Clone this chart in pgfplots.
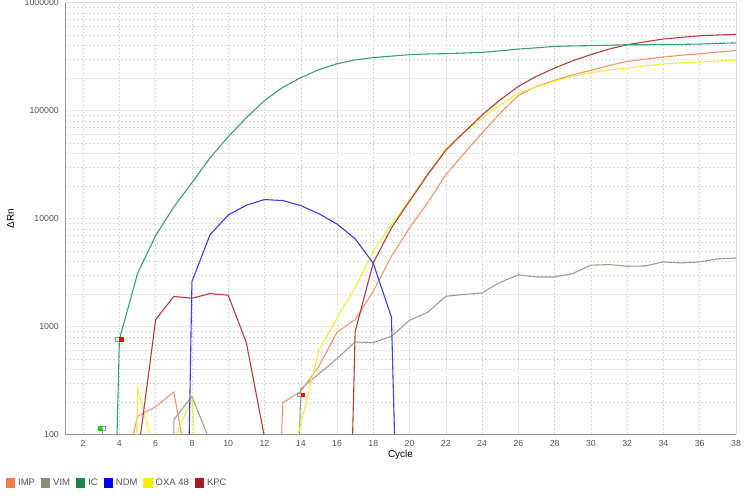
\documentclass[border=0pt]{standalone}
\usepackage{pgfplots}
\pgfplotsset{compat=1.18}
\usepackage{fontspec}
\setmainfont{Liberation Sans}
% line colours
\definecolor{impL}{RGB}{238,150,112}
\definecolor{vimL}{RGB}{160,158,140}
\definecolor{icL}{RGB}{62,158,114}
\definecolor{ndmL}{RGB}{60,60,232}
\definecolor{oxaL}{RGB}{242,238,60}
\definecolor{kpcL}{RGB}{182,62,62}
% legend swatch colours
\definecolor{impS}{RGB}{237,125,72}
\definecolor{vimS}{RGB}{140,140,120}
\definecolor{icS}{RGB}{22,135,75}
\definecolor{ndmS}{RGB}{0,0,240}
\definecolor{oxaS}{RGB}{245,240,0}
\definecolor{kpcS}{RGB}{175,25,35}
\definecolor{txtgray}{RGB}{85,85,85}
\definecolor{axgray}{RGB}{150,150,150}
\definecolor{gridgray}{RGB}{218,218,218}
\begin{document}
\begin{tikzpicture}
\path[use as bounding box] (-65bp,-69.5bp) rectangle (685bp,434.5bp);
\begin{axis}[
  at={(0,0)}, anchor=south west,
  scale only axis, width=671bp, height=431.8bp,
  xmin=1, xmax=38, ymin=100, ymax=1000000, ymode=log,
  xtick={2,4,...,38},
  ytick={100,1000,10000,100000,1000000},
  yticklabels={100,1000,10000,100000,1000000},
  minor ytick={200,300,400,500,600,700,800,900,2000,3000,4000,5000,6000,7000,8000,9000,20000,30000,40000,50000,60000,70000,80000,90000,200000,300000,400000,500000,600000,700000,800000,900000},
  grid=both,
  grid style={dash pattern=on 2bp off 2bp, draw=gridgray, line width=0.5bp},
  minor grid style={dash pattern=on 2bp off 2bp, draw=gridgray, line width=0.5bp},
  major tick length=0pt, minor tick length=0pt,
  axis lines*=left,
  axis line style={draw=axgray, line width=0.8bp},
  tick label style={font=\fontsize{8.8}{10}\selectfont, text=txtgray},
  /pgf/number format/assume math mode=true,
  yticklabel style={anchor=east, inner sep=0pt, xshift=-6bp},
  xticklabel style={anchor=north, inner sep=0pt, yshift=-5.5bp},
  xlabel={Cycle}, ylabel={ΔRn},
  label style={font=\fontsize{10.7}{12}\selectfont, text=txtgray},
  every axis x label/.style={at={(axis description cs:0.5,-0.0475)}, anchor=center},
  every axis y label/.style={at={(axis description cs:-0.0812,0.5)}, anchor=center, rotate=90},
  legend image code/.code={\fill[#1] (0bp,-4.6bp) rectangle (9.2bp,4.6bp);},
  legend columns=6,
  legend style={at={(axis description cs:-0.0879,-0.1123)}, anchor=west, draw=none, fill=none,
    inner sep=0pt, outer sep=0pt, font=\fontsize{9.5}{11}\selectfont, text=txtgray,
    nodes={inner sep=0pt},
    /tikz/every odd column/.append style={column sep=3bp},
    /tikz/every even column/.append style={column sep=6bp}},
  after end axis/.code={\draw[draw=gridgray, line width=0.7bp] (rel axis cs:0,1) -- (rel axis cs:1,1) -- (rel axis cs:1,0);},
  every axis plot/.append style={line width=1.1bp},
]
\addlegendimage{fill=impS, draw=none}\addlegendentry{IMP}
\addlegendimage{fill=vimS, draw=none}\addlegendentry{VIM}
\addlegendimage{fill=icS, draw=none}\addlegendentry{IC}
\addlegendimage{fill=ndmS, draw=none}\addlegendentry{NDM}
\addlegendimage{fill=oxaS, draw=none}\addlegendentry{OXA 48}
\addlegendimage{fill=kpcS, draw=none}\addlegendentry{KPC}

% VIM
\addplot[forget plot, vimL] coordinates {(7,100) (7,137) (8,226) (8.84,100)};
\addplot[forget plot, vimL] coordinates {(13.93,100) (14,265) (15,365) (16,505) (17,721) (18,711) (19,813) (20,1143) (21,1357) (22,1909) (23,1980) (24,2050) (25,2570) (26,3010) (27,2880) (28,2880) (29,3095) (30,3700) (31,3750) (32,3620) (33,3640) (34,3970) (35,3890) (36,3970) (37,4240) (38,4320)};
% IMP
\addplot[forget plot, impL] coordinates {(4.77,100) (5,147) (6,181) (7,247) (7.43,100)};
\addplot[forget plot, impL] coordinates {(12.95,100) (13,197) (14,250) (15,430) (16,885) (17,1160) (18,2120) (19,4480) (20,8210) (21,14000) (22,25500) (23,40000) (24,62200) (25,95000) (26,138000) (27,168000) (28,191000) (29,215000) (30,236000) (31,262000) (32,286000) (33,300000) (34,314000) (35,326000) (36,337000) (37,349000) (38,361000)};
% OXA 48
\addplot[forget plot, oxaL] coordinates {(4.95,100) (5,267) (5.69,100)};
\addplot[forget plot, oxaL] coordinates {(7.15,100) (8,215) (8.13,100)};
\addplot[forget plot, oxaL] coordinates {(13.86,100) (15,604) (16,1200) (17,2300) (18,4980) (19,8800) (20,15000) (21,26000) (22,44200) (23,63000) (24,85000) (25,113000) (26,146000) (27,166000) (28,187000) (29,208000) (30,226000) (31,238000) (32,248000) (33,260000) (34,271000) (35,277000) (36,282000) (37,288000) (38,295000)};
% NDM
\addplot[forget plot, ndmL] coordinates {(7.85,100) (8,2610) (9,7100) (10,10800) (11,13300) (12,15000) (13,14700) (14,13200) (15,11100) (16,8900) (17,6500) (18,3850) (19,1220) (19.17,100)};
% KPC
\addplot[forget plot, kpcL] coordinates {(5.17,100) (6,1160) (7,1900) (8,1830) (9,2020) (10,1950) (11,711) (11.97,100)};
\addplot[forget plot, kpcL] coordinates {(16.86,100) (17,900) (18,3890) (19,8210) (20,14500) (21,25500) (22,43000) (23,63000) (24,91000) (25,126000) (26,168000) (27,208000) (28,248000) (29,290000) (30,330000) (31,372000) (32,408000) (33,435000) (34,461000) (35,478000) (36,494000) (37,502000) (38,509000)};
% IC
\addplot[forget plot, icL] coordinates {(3.87,100) (4,760) (5,3100) (6,6970) (7,12800) (8,21500) (9,36500) (10,57400) (11,86000) (12,124000) (13,164000) (14,202000) (15,240000) (16,272000) (17,295000) (18,310000) (19,320000) (20,330000) (21,335000) (22,337000) (23,342000) (24,347000) (25,358000) (26,372000) (27,382000) (28,394000) (29,398000) (30,400000) (31,404000) (32,408000) (33,408000) (34,410000) (35,411000) (36,414000) (37,420000) (38,424000)};

% threshold markers
\addplot[forget plot, axgray, line width=0.5bp] coordinates {(3.03,100) (3.03,112)};
\addplot[forget plot, only marks, mark=square*, mark size=1.9bp, mark options={fill=white, draw=axgray, line width=0.4bp, xshift=-1.9bp}] coordinates {(4,760) (14,234)};
\addplot[forget plot, only marks, mark=square*, mark size=1.9bp, mark options={fill=red, draw=red, line width=0.3bp, xshift=1.9bp}] coordinates {(4,760) (14,234)};
\addplot[forget plot, only marks, mark=square*, mark size=1.9bp, mark options={fill=green!85!black!60!green, draw=green!80!black, line width=0.3bp, xshift=-1.9bp}] coordinates {(3.03,114)};
\addplot[forget plot, only marks, mark=square*, mark size=1.9bp, mark options={fill=white, draw=axgray, line width=0.4bp, xshift=1.9bp}] coordinates {(3.03,114)};
\end{axis}
\end{tikzpicture}
\end{document}
